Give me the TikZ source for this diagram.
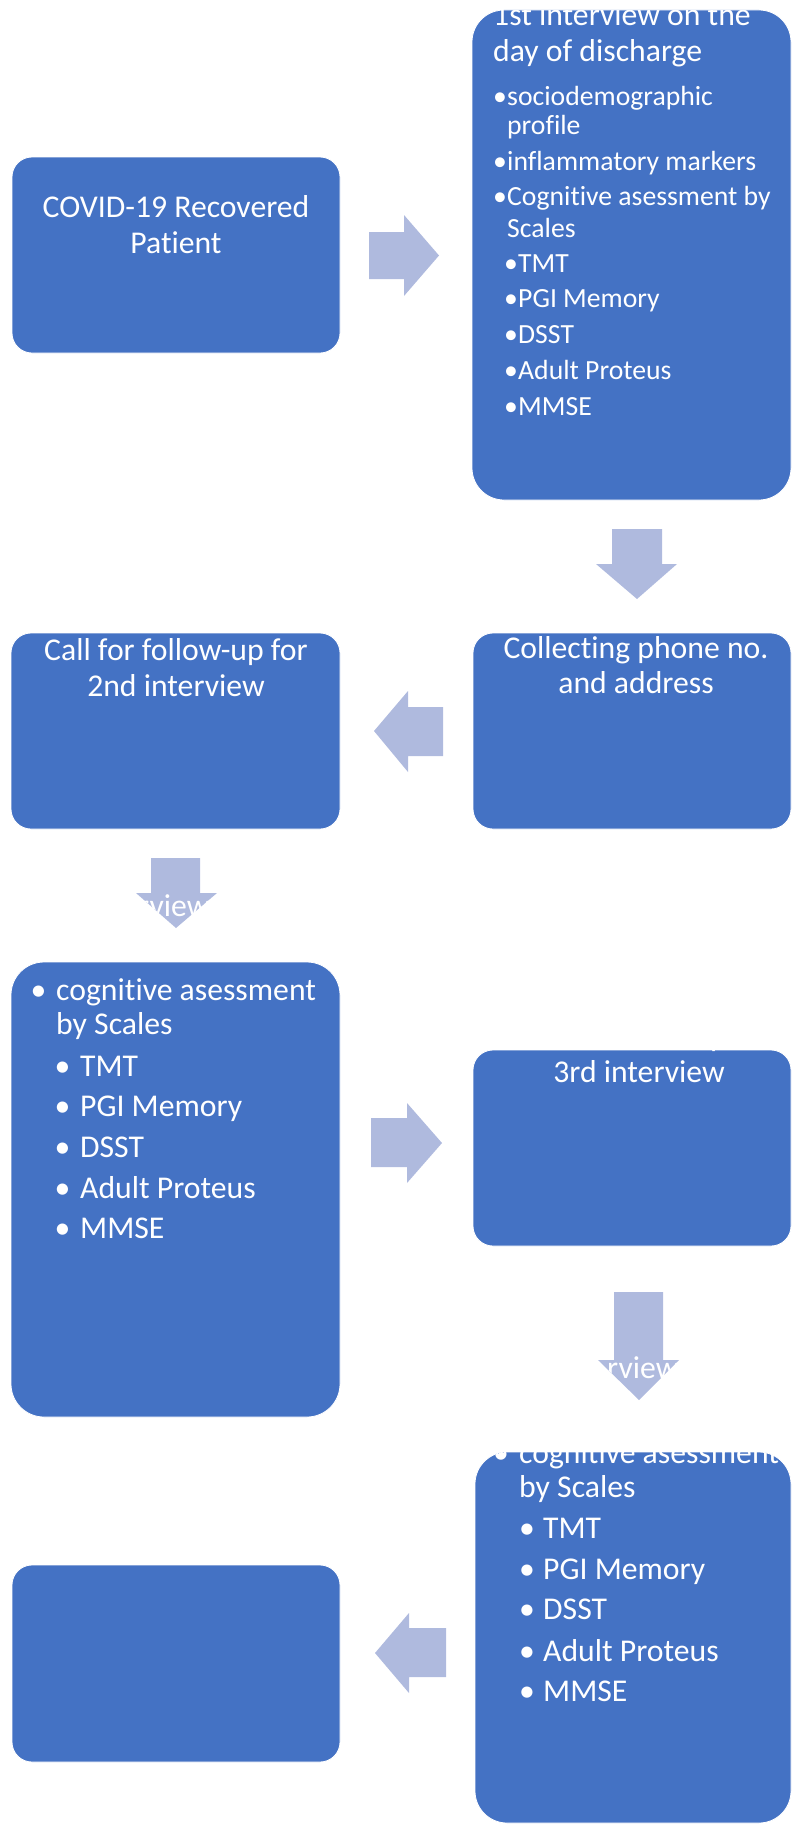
\documentclass[tikz,border=0pt]{standalone}
\usepackage{fontspec}
\setmainfont{Carlito}[Ligatures=NoCommon]
\definecolor{boxblue}{HTML}{4472C4}
\definecolor{arrowblue}{HTML}{AFBADE}
\begin{document}
\begin{tikzpicture}[x=1pt,y=-1pt,
  box/.style={draw=white, line width=0.8pt, fill=boxblue, inner sep=0pt},
  blockarrow/.style={fill=arrowblue, draw=none},
  txt/.style={text=white, font=\fontsize{31.7}{36}\selectfont, inner sep=0pt},
  stxt/.style={text=white, font=\fontsize{27.7}{30}\selectfont, inner sep=0pt},
]
\useasboundingbox (0,0) rectangle (792,1825);

% boxes
\node[box, rounded corners=20pt, minimum width=328pt, minimum height=196pt] (b1) at (176,255) {};
\node[box, rounded corners=32pt, minimum width=319pt, minimum height=490pt] (b2) at (631.5,255) {};
\node[box, rounded corners=20pt, minimum width=318pt, minimum height=196pt] (b3) at (632,731) {};
\node[box, rounded corners=20pt, minimum width=329pt, minimum height=196pt] (b4) at (175.5,731) {};
\node[box, rounded corners=33pt, minimum width=329pt, minimum height=455pt] (b5) at (175.5,1189.5) {};
\node[box, rounded corners=20pt, minimum width=318pt, minimum height=196pt] (b6) at (632,1148) {};
\node[box, rounded corners=32pt, minimum width=316pt, minimum height=371pt] (b7) at (633,1637.5) {};
\node[box, rounded corners=20pt, minimum width=328pt, minimum height=197pt] (b8) at (176,1663.5) {};

% block arrows
\path[blockarrow] (369,232) -- (404,232) -- (404,215) -- (439,255.5) -- (404,296) -- (404,279) -- (369,279) -- cycle;
\path[blockarrow] (612,529) -- (662,529) -- (662,564) -- (677,564) -- (637,599) -- (596,564) -- (612,564) -- cycle;
\path[blockarrow] (443,707) -- (408,707) -- (408,691) -- (374,731) -- (408,772) -- (408,756) -- (443,756) -- cycle;
\path[blockarrow] (151,858) -- (200,858) -- (200,893) -- (217,893) -- (176,928) -- (136,893) -- (151,893) -- cycle;
\path[blockarrow] (371,1118) -- (407,1118) -- (407,1103) -- (442,1143) -- (407,1183) -- (407,1167) -- (371,1167) -- cycle;
\path[blockarrow] (614,1292) -- (663,1292) -- (663,1360) -- (679,1360) -- (639,1400) -- (598,1360) -- (614,1360) -- cycle;
\path[blockarrow] (446,1628) -- (409,1628) -- (409,1613) -- (375,1653) -- (409,1693) -- (409,1677) -- (446,1677) -- cycle;

% arrow texts (clipped to arrow shapes)
\begin{scope}
\clip (151,858) -- (200,858) -- (200,893) -- (217,893) -- (176,928) -- (136,893) -- (151,893) -- cycle;
\node[txt, anchor=base west] (a4t) at (138,916) {rview};
\end{scope}
\begin{scope}
\clip (614,1292) -- (663,1292) -- (663,1360) -- (679,1360) -- (639,1400) -- (598,1360) -- (614,1360) -- cycle;
\node[txt, anchor=base west] (a6t) at (607,1378) {rview};
\end{scope}

% box 1
\node[txt, anchor=base] (t1a) at (176,217) {COVID-19 Recovered};
\node[txt, anchor=base] (t1b) at (176,253) {Patient};

% box 2
\begin{scope}
\clip[rounded corners=32pt] (472,10) rectangle (791,500);
\node[txt, anchor=base west] (t2a) at (493,26) {1st interview on the};
\node[txt, anchor=base west] (t2b) at (493,62) {day of discharge};
\end{scope}
\node[stxt, anchor=base] (t2c0) at (500,106) {•};
\node[stxt, anchor=base west] (t2c) at (507,106) {sociodemographic};
\node[stxt, anchor=base west] (t2d) at (507,135) {profile};
\node[stxt, anchor=base] (t2e0) at (500,170) {•};
\node[stxt, anchor=base west] (t2e) at (507,170) {inflammatory markers};
\node[stxt, anchor=base] (t2f0) at (500,205) {•};
\node[stxt, anchor=base west] (t2f) at (507,205) {Cognitive asessment by};
\node[stxt, anchor=base west] (t2g) at (507,237) {Scales};
\node[stxt, anchor=base] (t2h0) at (511,272) {•};
\node[stxt, anchor=base west] (t2h) at (518,272) {TMT};
\node[stxt, anchor=base] (t2i0) at (511,307) {•};
\node[stxt, anchor=base west] (t2i) at (518,307) {PGI Memory};
\node[stxt, anchor=base] (t2j0) at (511,343) {•};
\node[stxt, anchor=base west] (t2j) at (518,343) {DSST};
\node[stxt, anchor=base] (t2k0) at (511,379) {•};
\node[stxt, anchor=base west] (t2k) at (518,379) {Adult Proteus};
\node[stxt, anchor=base] (t2l0) at (511,415) {•};
\node[stxt, anchor=base west] (t2l) at (518,415) {MMSE};

% box 3
\node[txt, anchor=base] (t3a) at (636,658) {Collecting phone no.};
\node[txt, anchor=base] (t3b) at (636,693) {and address};

% box 4
\node[txt, anchor=base] (t4a) at (176,660) {Call for follow-up for};
\node[txt, anchor=base] (t4b) at (176,696) {2nd interview};

% box 5
\node[txt, anchor=base] (t5a0) at (38.5,1000) {•};
\node[txt, anchor=base west] (t5a) at (56,1000) {cognitive asessment};
\node[txt, anchor=base west] (t5b) at (56,1034) {by Scales};
\node[txt, anchor=base] (t5c0) at (62.5,1076) {•};
\node[txt, anchor=base west] (t5c) at (80,1076) {TMT};
\node[txt, anchor=base] (t5d0) at (62.5,1116) {•};
\node[txt, anchor=base west] (t5d) at (80,1116) {PGI Memory};
\node[txt, anchor=base] (t5e0) at (62.5,1157) {•};
\node[txt, anchor=base west] (t5e) at (80,1157) {DSST};
\node[txt, anchor=base] (t5f0) at (62.5,1198) {•};
\node[txt, anchor=base west] (t5f) at (80,1198) {Adult Proteus};
\node[txt, anchor=base] (t5g0) at (62.5,1238) {•};
\node[txt, anchor=base west] (t5g) at (80,1238) {MMSE};

% box 6
\begin{scope}
\clip[rounded corners=20pt] (473,1050) rectangle (791,1246);
\node[txt, anchor=base] (t6a) at (639,1046) {Call for follow-up for};
\end{scope}
\node[txt, anchor=base] (t6b) at (639,1082) {3rd interview};

% box 7
\begin{scope}
\clip[rounded corners=32pt] (475,1452) rectangle (791,1823);
\node[txt, anchor=base] (t7a0) at (501,1463) {•};
\node[txt, anchor=base west] (t7a) at (519,1463) {cognitive asessment};
\end{scope}
\node[txt, anchor=base west] (t7b) at (519,1497) {by Scales};
\node[txt, anchor=base] (t7c0) at (527,1538) {•};
\node[txt, anchor=base west] (t7c) at (543,1538) {TMT};
\node[txt, anchor=base] (t7d0) at (527,1579) {•};
\node[txt, anchor=base west] (t7d) at (543,1579) {PGI Memory};
\node[txt, anchor=base] (t7e0) at (527,1619) {•};
\node[txt, anchor=base west] (t7e) at (543,1619) {DSST};
\node[txt, anchor=base] (t7f0) at (527,1661) {•};
\node[txt, anchor=base west] (t7f) at (543,1661) {Adult Proteus};
\node[txt, anchor=base] (t7g0) at (527,1701) {•};
\node[txt, anchor=base west] (t7g) at (543,1701) {MMSE};
\end{tikzpicture}
\end{document}
